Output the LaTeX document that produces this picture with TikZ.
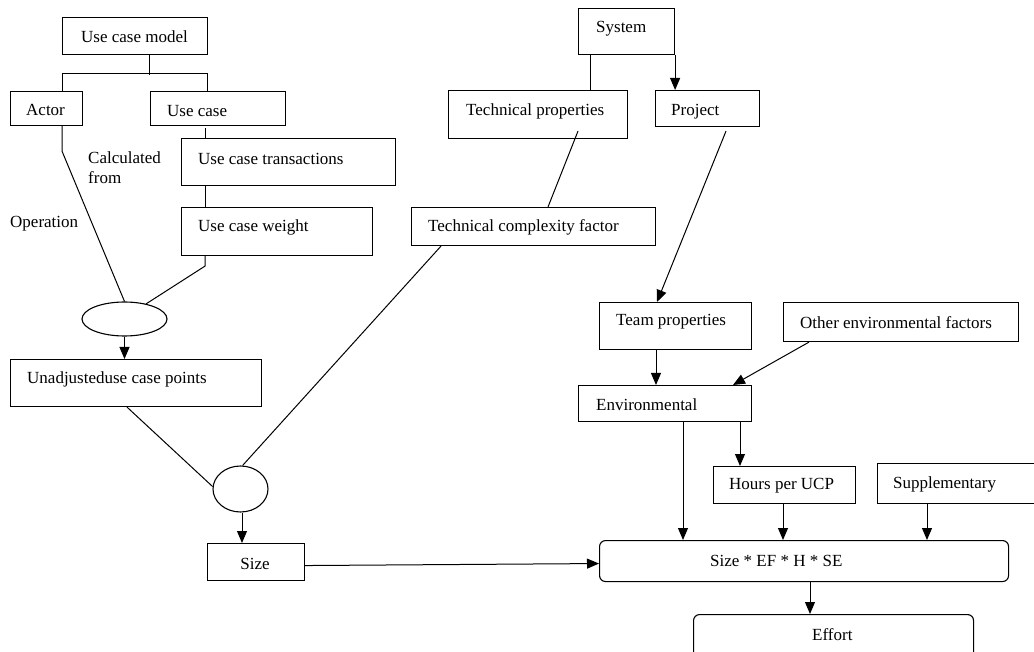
\documentclass[tikz,border=0pt]{standalone}
\usepackage{fontspec}
\setmainfont{Liberation Serif}
\usetikzlibrary{arrows.meta,shapes.geometric}
\begin{document}
\begin{tikzpicture}[x=1pt,y=-1pt,
  box/.style={draw, line width=1.1pt, anchor=north west, inner sep=0pt},
  rbox/.style={box, rounded corners=6pt},
  oval/.style={draw, line width=1.1pt, ellipse, inner sep=0pt},
  txt/.style={font=\fontsize{17}{20.5}\selectfont, inner sep=0pt, anchor=west, yshift=-1.5pt},
  ln/.style={line width=1pt},
  arr/.style={ln, -{Triangle[width=10pt,length=12pt]}}]
\useasboundingbox (0,0) rectangle (1034,652);
\clip (0,0) rectangle (1034,652);
\fill[white] (0,0) rectangle (1034,652);
% boxes
\node[box, minimum width=145pt, minimum height=37pt] (ucm) at (62,17) {};
\node[box, minimum width=72pt, minimum height=34pt] (actor) at (10,91) {};
\node[box, minimum width=135pt, minimum height=34pt] (uc) at (150,91) {};
\node[box, minimum width=214pt, minimum height=47pt] (uct) at (181,138) {};
\node[box, minimum width=191pt, minimum height=48pt] (uw) at (181,207) {};
\node[box, minimum width=251pt, minimum height=47pt] (ua) at (10,359) {};
\node[box, minimum width=97pt, minimum height=37pt] (size) at (207,543) {};
\node[box, minimum width=96pt, minimum height=46pt] (sys) at (578,8) {};
\node[box, minimum width=179pt, minimum height=48pt] (tp) at (448,90) {};
\node[box, minimum width=104pt, minimum height=36pt] (proj) at (655,90) {};
\node[box, minimum width=244pt, minimum height=38pt] (tcf) at (411,207) {};
\node[box, minimum width=152pt, minimum height=47pt] (team) at (599,302) {};
\node[box, minimum width=235pt, minimum height=39pt] (other) at (783,302) {};
\node[box, minimum width=173pt, minimum height=36pt] (env) at (578,385) {};
\node[box, minimum width=142pt, minimum height=37pt] (hours) at (713,466) {};
\node[box, minimum width=170pt, minimum height=40pt] (supp) at (877,463) {};
\node[rbox, minimum width=409pt, minimum height=41pt] (calc) at (599,540) {};
\node[rbox, minimum width=280pt, minimum height=60pt] (effort) at (693,614) {};
\node[oval, minimum width=85pt, minimum height=34pt] (e1) at (124.5,319) {};
\node[oval, minimum width=55pt, minimum height=46pt] (e2) at (240.5,489) {};
% texts
\node[txt] (tucm) at (81,35) {Use case model};
\node[txt] (tactor) at (26,108) {Actor};
\node[txt] (tuc) at (167,110) {Use case};
\node[txt] (tuct) at (198,157) {Use case transactions};
\node[txt] (tuw) at (198,226) {Use case weight};
\node[txt, align=left] (tcalcfrom) at (88,166) {Calculated\\ from};
\node[txt] (top) at (10,222) {Operation};
\node[txt] (tua) at (27,378) {Unadjusteduse case points};
\node[txt, anchor=center] (tsize) at (255,562) {Size};
\node[txt] (tsys) at (596,27) {System};
\node[txt] (ttp) at (466,110) {Technical properties};
\node[txt] (tproj) at (671,110) {Project};
\node[txt] (ttcf) at (428,226) {Technical complexity factor};
\node[txt] (tteam) at (616,320) {Team properties};
\node[txt] (tother) at (800,321) {Other environmental factors};
\node[txt] (tenv) at (596,403) {Environmental};
\node[txt] (thours) at (729,484) {Hours per UCP};
\node[txt] (tsupp) at (893,483) {Supplementary};
\node[txt] (tcalc) at (710,559) {Size * EF * H * SE};
\node[txt] (teffort) at (812,633) {Effort};
% connectors, left part
\draw[ln] ([xshift=87pt]ucm.south west) -- ++(0,20);
\draw[ln] ([xshift=52pt]actor.north west) -- ++(0,-17) -| ([xshift=57pt]uc.north west);
\draw[ln] ([xshift=24pt]uct.north west) -- ++(0,-10);
\draw[ln] ([xshift=24pt]uct.south west) -- ([xshift=24pt]uw.north west);
\draw[ln] ([xshift=24pt]uw.south west) -- ++(0,10) -- (e1.35);
\draw[ln] ([xshift=52pt]actor.south west) -- ++(0,25) -- (e1.north);
\draw[arr] (e1.south) -- (e1.south |- ua.north);
\draw[ln] ([xshift=117pt]ua.south west) -- (e2.175);
\draw[ln] ([xshift=30pt]tcf.south west) -- (e2.85);
\draw[arr] ([xshift=1.5pt]e2.south) -- ([xshift=1.5pt]e2.south |- size.north);
\draw[arr] ([yshift=-3.5pt]size.east) -- ([yshift=-2.5pt]calc.west);
% connectors, right part
\draw[ln] ([xshift=12pt]sys.south west) -- ([xshift=12pt]sys.south west |- tp.north);
\draw[arr] (sys.south east) -- (sys.south east |- proj.north);
\draw[ln] ([xshift=130pt,yshift=8pt]tp.south west) -- ([xshift=137pt]tcf.north west);
\draw[arr] ([xshift=71pt,yshift=-4pt]proj.south west) -- ([xshift=58pt]team.north west);
\draw[arr] ([xshift=57pt]team.south west) -- ([xshift=57pt]team.south west |- env.north);
\draw[arr] ([xshift=26pt]other.south west) -- ([xshift=155pt]env.north west);
\draw[arr] ([xshift=105pt]env.south west) -- ([xshift=105pt]env.south west |- calc.north);
\draw[arr] ([xshift=162pt]env.south west) -- ([xshift=162pt]env.south west |- hours.north);
\draw[arr] ([xshift=70pt]hours.south west) -- ([xshift=70pt]hours.south west |- calc.north);
\draw[arr] ([xshift=50pt]supp.south west) -- ([xshift=50pt]supp.south west |- calc.north);
\draw[arr] ([xshift=211pt]calc.south west) -- ([xshift=211pt]calc.south west |- effort.north);
\end{tikzpicture}
\end{document}
